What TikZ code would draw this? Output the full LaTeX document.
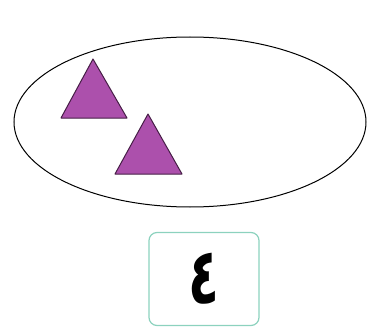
\documentclass[tikz,border=0pt]{standalone}
\usepackage{fontspec}
\newfontfamily\arabicfont[Script=Arabic, FakeStretch=0.65]{DejaVu Sans}
\definecolor{triviolet}{RGB}{172,80,172}
\definecolor{trirand}{RGB}{70,30,70}
\definecolor{kastenrand}{RGB}{140,210,190}
\begin{document}
\begin{tikzpicture}[x=1pt,y=-1pt,
    dreieck/.style={fill=triviolet, draw=trirand, line width=1pt, line join=round},
    kasten/.style={draw=kastenrand, line width=1.2pt, rounded corners=8pt, minimum width=110pt, minimum height=93pt}]
            \useasboundingbox (0,0) rectangle (367,329);
            \draw[line width=1pt] (190,122) ellipse (176 and 85);
            \draw[dreieck] (93,59) -- (127,118) -- (61,118) -- cycle;
            \draw[dreieck] (148,114) -- (182,174) -- (115,174) -- cycle;
            \node[kasten] (zahl) at (204,279) {};
            \node[inner sep=0pt] at (zahl.center) {\fontsize{78}{78}\selectfont\arabicfont\bfseries ٤};
        \end{tikzpicture}
\end{document}
